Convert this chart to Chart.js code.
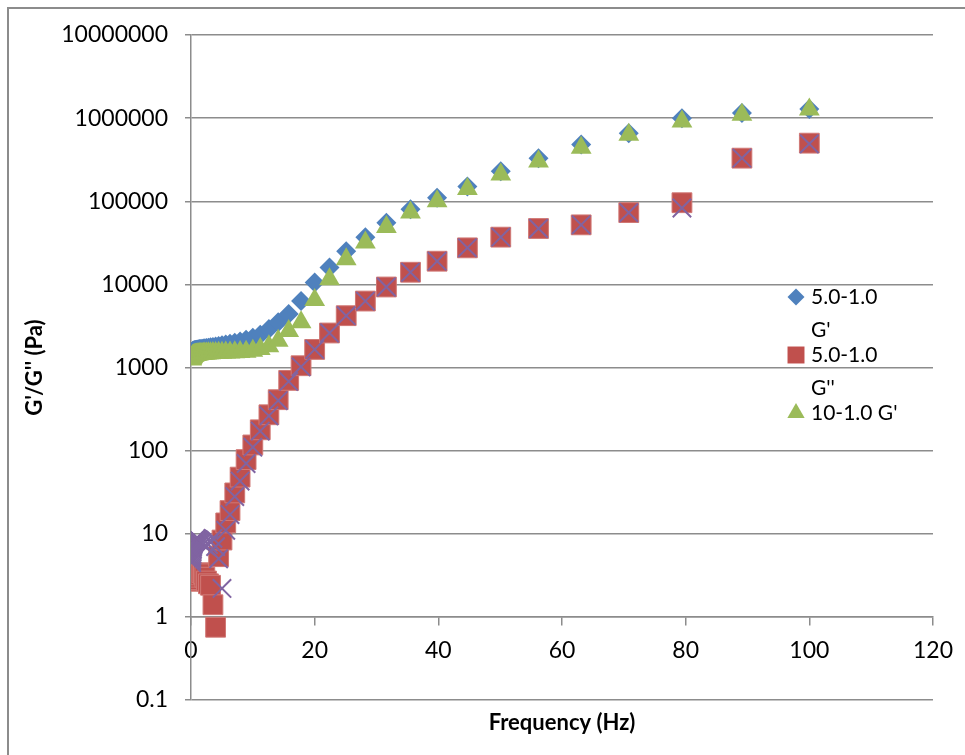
<!DOCTYPE html>
<html>
<head>
<meta charset="utf-8">
<script src="https://cdn.jsdelivr.net/npm/chart.js@4"></script>
<style>
  body { margin: 0; background: #fff; }
  #wrap { position: relative; width: 965px; height: 755px; }
  #frame { position: absolute; left: 7px; top: 7px; right: -5px; bottom: -5px; border-left: 2px solid #8c8c8c; border-top: 2px solid #8c8c8c; pointer-events: none; }
</style>
</head>
<body>
<div id="wrap">
  <canvas id="chart" width="965" height="755"></canvas>
  <div id="frame"></div>
</div>
<script>
// frequency (Hz)
const freq = [
  0.1, 0.112, 0.126, 0.141, 0.158, 0.178, 0.2, 0.224, 0.251, 0.282,
  0.316, 0.355, 0.398, 0.447, 0.501, 0.562, 0.631, 0.708, 0.794, 0.891,
  1, 1.12, 1.26, 1.41, 1.58, 1.78, 2, 2.24, 2.51, 2.82,
  3.16, 3.55, 3.98, 4.47, 5.01, 5.62, 6.31, 7.08, 7.94, 8.91,
  10, 11.2, 12.6, 14.1, 15.8, 17.8, 20, 22.4, 25.1, 28.2,
  31.6, 35.5, 39.8, 44.7, 50.1, 56.2, 63.1, 70.8, 79.4, 89.1, 100
]

// 5.0-1.0 G'
const g1Storage = [
  1450, 1470, 1490, 1505, 1520, 1530, 1540, 1550, 1560, 1568,
  1575, 1582, 1590, 1596, 1602, 1608, 1614, 1620, 1626, 1632,
  1640, 1648, 1656, 1664, 1672, 1680, 1690, 1700, 1715, 1730,
  1750, 1770, 1790, 1820, 1850, 1890, 1930, 1990, 2060, 2150,
  2280, 2480, 2900, 3500, 4400, 6300, 10500, 16000, 25000, 37000,
  55000, 80000, 110000, 150000, 230000, 330000, 480000, 660000, 1000000, 1150000, 1290000
]

// 5.0-1.0 G''
const g1Loss = [
  3.2, 3.1, 3.0, 2.9, 2.8, 2.8, 2.9, 3.0, 3.1, 3.0,
  2.9, 2.8, 2.7, 2.8, 3.0, 3.2, 3.3, 3.1, 2.9, 2.8,
  2.7, 2.7, 2.8, 3.0, 3.2, 3.4, 3.3, 3.0, 2.7, 2.5,
  2.4, 1.4, 0.75, 5.3, 8.4, 13.5, 19, 31, 48, 78,
  117, 178, 270, 410, 700, 1050, 1650, 2600, 4200, 6300,
  9300, 14000, 19000, 27500, 37000, 47000, 52000, 73000, 96000, 330000, 500000
]

// 10-1.0 G'
const g2Storage = [
  1250, 1270, 1290, 1305, 1320, 1330, 1340, 1350, 1360, 1368,
  1375, 1382, 1390, 1396, 1402, 1408, 1414, 1420, 1425, 1430,
  1435, 1440, 1445, 1450, 1455, 1460, 1465, 1470, 1475, 1480,
  1485, 1490, 1495, 1500, 1505, 1510, 1518, 1526, 1535, 1550,
  1590, 1670, 1800, 2100, 2750, 3500, 6500, 11500, 20000, 32000,
  49000, 73000, 100000, 140000, 210000, 300000, 440000, 630000, 910000, 1100000, 1270000
]

// 10-1.0 G'' (not shown in legend)
const g2Loss = [
  4.5, 4.8, 5.1, 5.4, 5.7, 6.0, 6.3, 6.6, 6.9, 7.2,
  7.4, 7.6, 7.8, 8.0, 8.2, 8.3, 8.4, 8.5, 8.5, 8.6,
  8.6, 8.5, 8.4, 8.2, 8.0, 7.8, 7.5, 7.2, 7.0, 7.4,
  8.0, 8.8, 7.0, 5.0, 2.2, 11, 17, 28, 43, 70,
  110, 172, 262, 400, 680, 1020, 1650, 2600, 4200, 6300,
  9300, 14000, 19000, 27500, 37000, 47000, 52000, 73000, 83000, 330000, 490000
]

const seriesNames = [["5.0-1.0", "G'"], ["5.0-1.0", "G''"], ["10-1.0 G'"], ["10-1.0 G''"]]
const yTicks = [0.1, 1, 10, 100, 1000, 10000, 100000, 1000000, 10000000]

const pts = ys => freq.map((x, i) => ({ x: x, y: ys[i] }))
const gridGray = '#8c8c8c'

// legend drawn over the plot area, like the Excel one
const legendPlugin = {
  id: 'sideLegend',
  afterDatasetsDraw(chart) {
    const ctx = chart.ctx
    const startY = [297, 355, 413]
    ctx.save()
    for (let i = 0; i < 3; i++) {
      const ds = chart.data.datasets[i]
      ctx.fillStyle = ds.backgroundColor
      ctx.strokeStyle = ds.backgroundColor
      Chart.helpers.drawPoint(ctx, { pointStyle: ds.pointStyle, radius: ds.legendRadius, borderWidth: 0, rotation: 0 }, 796, startY[i])
      ctx.fillStyle = '#000'
      ctx.font = '21px Lato'
      ctx.textBaseline = 'middle'
      ctx.textAlign = 'left'
      seriesNames[i].forEach((t, j) => ctx.fillText(t, 811, startY[i] + j * 33))
    }
    ctx.restore()
  }
}

new Chart(document.getElementById('chart'), {
  type: 'scatter',
  data: {
    datasets: [
      { label: seriesNames[0].join(' '), data: pts(g1Storage), pointStyle: 'rectRot', pointRadius: 10, legendRadius: 8.5,
        backgroundColor: '#4F81BD', borderColor: '#4F81BD', pointBorderWidth: 0, order: 3 },
      { label: seriesNames[1].join(' '), data: pts(g1Loss), pointStyle: 'rect', pointRadius: 14, legendRadius: 12,
        backgroundColor: '#C0504D', borderColor: '#D07875', pointBorderWidth: 1, order: 2 },
      { label: seriesNames[2].join(' '), data: pts(g2Storage), pointStyle: 'triangle', pointRadius: 12, legendRadius: 10,
        backgroundColor: '#9BBB59', borderColor: '#9BBB59', pointBorderWidth: 0, order: 1 },
      { label: seriesNames[3].join(' '), data: pts(g2Loss), pointStyle: 'crossRot', pointRadius: 13,
        backgroundColor: '#8064A2', borderColor: '#8064A2', pointBorderWidth: 2, order: 0 }
    ]
  },
  options: {
    responsive: false,
    animation: false,
    layout: { padding: { left: 8, right: 27, top: 35, bottom: 55 } },
    plugins: {
      legend: { display: false },
      tooltip: { enabled: false }
    },
    scales: {
      x: {
        type: 'linear',
        min: 0,
        max: 120,
        position: { y: 1 },
        ticks: { stepSize: 20, padding: 12, color: '#000', font: { family: 'Lato', size: 23 } },
        grid: { drawOnChartArea: false, tickLength: 8, color: gridGray, lineWidth: 1.5 },
        border: { color: gridGray, width: 1.5 },
        title: { display: true, text: 'Frequency (Hz)', color: '#000', font: { family: 'Lato', size: 22, weight: 'bold' }, padding: { top: 33, bottom: 0 } }
      },
      y: {
        type: 'logarithmic',
        min: 0.1,
        max: 10000000,
        afterBuildTicks: s => { s.ticks = yTicks.map(v => ({ value: v })) },
        afterFit: s => { s.width = 183 },
        ticks: { padding: 17, color: '#000', font: { family: 'Lato', size: 23 }, callback: v => String(v) },
        grid: { color: gridGray, lineWidth: 1.5, tickLength: 6 },
        border: { color: gridGray, width: 1.5 },
        title: { display: true, text: "G'/G'' (Pa)", color: '#000', font: { family: 'Lato', size: 22, weight: 'bold' }, padding: 14 }
      }
    }
  },
  plugins: [legendPlugin]
})
</script>
</body>
</html>
